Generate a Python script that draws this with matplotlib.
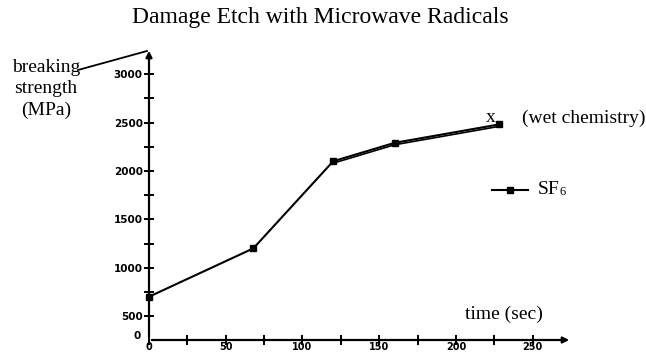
import matplotlib
matplotlib.use("Agg")
import matplotlib.pyplot as plt
from matplotlib.lines import Line2D

# data
time_sf6 = [0, 68, 120, 160, 228]
strength_sf6 = [700, 1200, 2100, 2290, 2480]

# second trace that runs just beside the first one
time_wet = [120, 160, 228]
strength_wet = [2080, 2270, 2460]

xticks = [0, 50, 100, 150, 200, 250]
yticks = [500, 1000, 1500, 2000, 2500, 3000]

W, H = 646, 353
serif = "Liberation Serif"

def fx(px):
    return px / W

def fy(py):
    return 1 - py / H

fig = plt.figure(figsize=(W / 100, H / 100), dpi=100)
ax = fig.add_axes([fx(149), fy(340), (572 - 149) / W, (340 - 48) / H])
ax.set_xlim(0, 275.6)
ax.set_ylim(253, 3270)

for s in ax.spines.values():
    s.set_visible(False)

# axis lines with arrows
ax.annotate("", xy=(1, 0), xytext=(0, 0), xycoords="axes fraction",
            arrowprops=dict(arrowstyle="-|>", lw=1.6, color="black", mutation_scale=9))
ax.annotate("", xy=(0, 1), xytext=(0, 0), xycoords="axes fraction",
            arrowprops=dict(arrowstyle="-|>", lw=1.6, color="black", mutation_scale=9))

ax.set_xticks(xticks)
ax.set_xticks([25, 75, 125, 175, 225], minor=True)
ax.set_yticks(yticks)
ax.set_yticks([750, 1250, 1750, 2250, 2750], minor=True)
ax.tick_params(which="both", direction="inout", length=7, width=1.4, colors="black")
ax.tick_params(axis="x", pad=-2)
ax.tick_params(axis="y", pad=1)
for lab in ax.get_xticklabels():
    lab.set_fontsize(7)
    lab.set_fontweight("bold")
for lab in ax.get_yticklabels():
    lab.set_fontsize(7.5)
    lab.set_fontweight("bold")

ax.plot(time_sf6, strength_sf6, color="black", lw=1.5, marker="s", ms=5,
        markerfacecolor="black", clip_on=False)
ax.plot(time_wet, strength_wet, color="black", lw=1.2)

fig.text(fx(137), fy(336), "0", fontsize=7.5, fontweight="bold", ha="center", va="center")

fig.text(fx(320), fy(18), "Damage Etch with Microwave Radicals", family=serif,
         fontsize=17, ha="center", va="center")
fig.text(fx(46), fy(89), "breaking\nstrength\n(MPa)", family=serif, fontsize=14,
         ha="center", va="center", linespacing=1.3)
fig.add_artist(Line2D([fx(78), fx(147)], [fy(70), fy(51)], color="black", lw=1.3))

fig.text(fx(504), fy(314), "time (sec)", family=serif, fontsize=14, ha="center", va="center")
fig.text(fx(491), fy(117), "x", family=serif, fontsize=14, ha="center", va="center")
fig.text(fx(522), fy(118), "(wet chemistry)", family=serif, fontsize=14, ha="left", va="center")

fig.add_artist(Line2D([fx(492), fx(528)], [fy(190), fy(190)], color="black", lw=1.5))
fig.add_artist(Line2D([fx(510)], [fy(190)], color="black", marker="s", ms=5))
fig.text(fx(538), fy(189), "SF", family=serif, fontsize=14, ha="left", va="center")
fig.text(fx(559), fy(192), "6", family=serif, fontsize=9, ha="left", va="center")

fig.savefig("out.png", dpi=100)
